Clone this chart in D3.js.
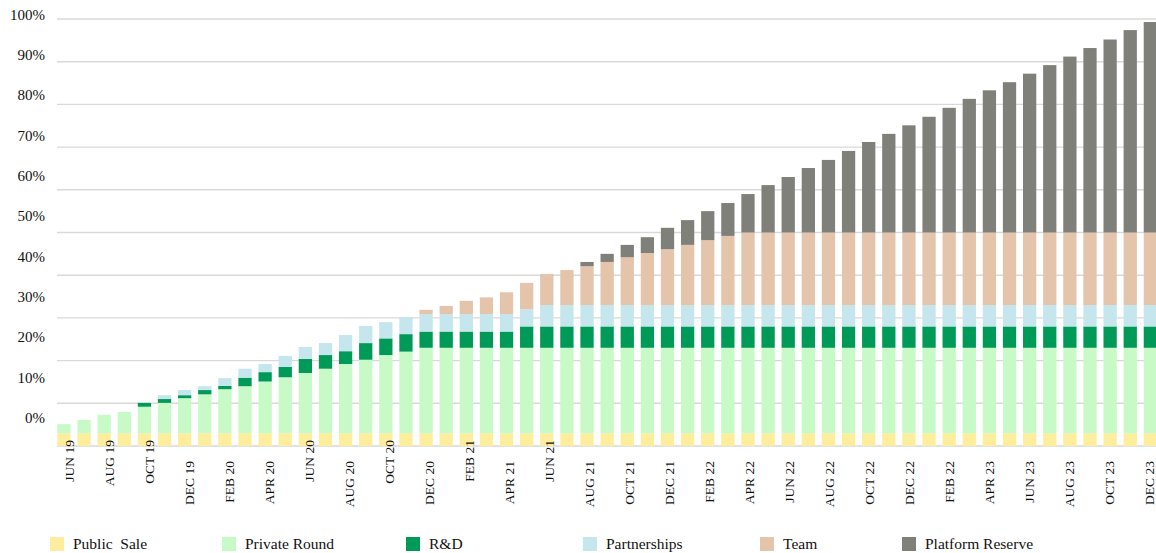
<!DOCTYPE html>
<html>
<head>
<meta charset="utf-8">
<script src="https://cdn.jsdelivr.net/npm/d3@7"></script>
<style>
  body { margin: 0; background: #fff; }
  svg text { font-family: "Liberation Serif", "DejaVu Serif", "Times New Roman", serif; }
</style>
</head>
<body>
<div id="chart"></div>
<script>
var months = [
  "JUN 19","JUL 19","AUG 19","SEP 19","OCT 19","NOV 19","DEC 19",
  "JAN 20","FEB 20","MAR 20","APR 20","MAY 20","JUN 20","JUL 20","AUG 20","SEP 20","OCT 20","NOV 20","DEC 20",
  "JAN 21","FEB 21","MAR 21","APR 21","MAY 21","JUN 21","JUL 21","AUG 21","SEP 21","OCT 21","NOV 21","DEC 21",
  "JAN 22","FEB 22","MAR 22","APR 22","MAY 22","JUN 22","JUL 22","AUG 22","SEP 22","OCT 22","NOV 22","DEC 22",
  "JAN 23","FEB 23","MAR 23","APR 23","MAY 23","JUN 23","JUL 23","AUG 23","SEP 23","OCT 23","NOV 23","DEC 23"
]

// every other month is labelled (the original repeats "FEB 22")
var tickLabels = [
  "JUN 19","AUG 19","OCT 19","DEC 19","FEB 20","APR 20","JUN 20","AUG 20","OCT 20","DEC 20",
  "FEB 21","APR 21","JUN 21","AUG 21","OCT 21","DEC 21","FEB 22","APR 22","JUN 22","AUG 22",
  "OCT 22","DEC 22","FEB 22","APR 23","JUN 23","AUG 23","OCT 23","DEC 23"
]

var yTicks = [0,10,20,30,40,50,60,70,80,90,100]

var seriesNames = ["Public Sale","Private Round","R&D","Partnerships","Team","Platform Reserve"]
var seriesColors = ["#fdee9d","#c7fac7","#009a58","#c4e6ec","#e4c4ab","#80807b"]

var publicSale = [
  3,3,3,3,3,3,3,3,3,3,3,3,3,3,3,3,3,3,3,3,3,3,3,3,3,3,3,3,
  3,3,3,3,3,3,3,3,3,3,3,3,3,3,3,3,3,3,3,3,3,3,3,3,3,3,3
]
var privateRound = [
  2.1,3.1,4.3,5.0,6.2,7.1,8.2,9.1,10.3,11.0,12.1,13.1,14.1,15.1,16.2,17.2,18.3,19.1,
  20,20,20,20,20,20,20,20,20,20,20,20,20,20,20,20,20,20,20,20,20,20,20,20,20,20,20,20,20,20,20,20,20,20,20,20,20
]
var rnd = [
  0,0,0,0,0.9,0.9,0.7,1.0,0.8,2.0,2.2,2.4,3.3,3.2,3.0,3.9,3.9,4.1,
  3.8,3.8,3.8,3.8,3.8,
  5,5,5,5,5,5,5,5,5,5,5,5,5,5,5,5,5,5,5,5,5,5,5,5,5,5,5,5,5,5,5,5
]
var partnerships = [
  0,0,0,0,0,0.9,1.2,0.9,1.8,2.1,1.9,2.6,2.8,2.8,3.8,4.0,3.8,4.0,
  4.1,4.1,4.1,4.1,4.1,4.0,
  5,5,5,5,5,5,5,5,5,5,5,5,5,5,5,5,5,5,5,5,5,5,5,5,5,5,5,5,5,5,5
]
var team = [
  0,0,0,0,0,0,0,0,0,0,0,0,0,0,0,0,0,0,
  1.0,1.9,3.1,3.9,5.1,6.2,7.3,8.2,9.1,10.1,11.2,12.2,13.1,14.1,15.2,16.2,
  17,17,17,17,17,17,17,17,17,17,17,17,17,17,17,17,17,17,17,17,17
]
var platformReserve = [
  0,0,0,0,0,0,0,0,0,0,0,0,0,0,0,0,0,0,0,0,0,0,0,0,0,0,
  1.0,1.9,2.9,3.7,5.0,5.8,6.8,7.7,9.0,11.1,13.0,15.1,17.0,19.1,21.2,23.1,25.1,
  27.1,29.2,31.3,33.3,35.2,37.2,39.2,41.2,43.2,45.2,47.4,49.3
]

var seriesValues = [publicSale, privateRound, rnd, partnerships, team, platformReserve]

var width = 1156, height = 553
var serif = "Liberation Serif, DejaVu Serif, Times New Roman, serif"
var textColor = "#111"

var rows = months.map(function(m, i) {
  var r = {month: m}
  seriesNames.forEach(function(s, j) { r[s] = seriesValues[j][i] })
  return r
})

var svg = d3.select("#chart").append("svg")
  .attr("width", width)
  .attr("height", height)
  .attr("font-family", serif)

var x = d3.scaleBand()
  .domain(months)
  .range([57.3, 1157])
  .paddingInner(0.34)
  .paddingOuter(0)

var y = d3.scaleLinear()
  .domain([0, 100])
  .range([446, 19])

// the tick labels sit on their own, slightly tighter, scales
var yLabel = d3.scaleLinear()
  .domain([0, 100])
  .range([423, 19.7])

var xLabel = d3.scalePoint()
  .domain(d3.range(tickLabels.length))
  .range([69, 1149.5])

// gridlines
svg.append("g")
  .selectAll("line")
  .data(yTicks)
  .join("line")
    .attr("x1", 57)
    .attr("x2", width)
    .attr("y1", function(d) { return y(d) })
    .attr("y2", function(d) { return y(d) })
    .attr("stroke", "#d9d9d9")
    .attr("stroke-width", 1.4)

var stack = d3.stack().keys(seriesNames)(rows)

svg.append("g")
  .selectAll("g")
  .data(stack)
  .join("g")
    .attr("fill", function(d, i) { return seriesColors[i] })
  .selectAll("rect")
  .data(function(d) { return d.filter(function(p) { return p[1] - p[0] > 0 }) })
  .join("rect")
    .attr("x", function(d) { return x(d.data.month) })
    .attr("width", x.bandwidth())
    .attr("y", function(d) { return y(d[1]) })
    .attr("height", function(d) { return y(d[0]) - y(d[1]) })

// y labels
svg.append("g")
  .selectAll("text")
  .data(yTicks)
  .join("text")
    .attr("x", 45)
    .attr("y", function(d) { return yLabel(d) })
    .attr("text-anchor", "end")
    .attr("font-family", serif)
    .attr("font-size", "15px")
    .attr("fill", textColor)
    .text(function(d) { return d + "%" })

// x labels, a handful of them sit higher in the original
var raised = new Set(["JUN 19","AUG 19","OCT 19","JUN 20","OCT 20","FEB 21","JUN 21"])

svg.append("g")
  .selectAll("text")
  .data(tickLabels)
  .join("text")
    .attr("transform", function(d, i) {
      var ty = raised.has(d) && i < 13 ? 440 : 461
      return "translate(" + xLabel(i) + "," + ty + ") rotate(-90)"
    })
    .attr("dy", "0.35em")
    .attr("text-anchor", "end")
    .attr("font-family", serif)
    .attr("font-size", "13.5px")
    .attr("fill", textColor)
    .text(function(d) { return d })

// legend
var legendX = [50, 222, 406, 583, 760, 902]

var legend = svg.append("g")
  .selectAll("g")
  .data(seriesNames)
  .join("g")
    .attr("transform", function(d, i) { return "translate(" + legendX[i] + ",537)" })

legend.append("rect")
  .attr("width", 14)
  .attr("height", 14)
  .attr("fill", function(d, i) { return seriesColors[i] })

legend.append("text")
  .attr("x", 23)
  .attr("y", 12)
  .attr("font-family", serif)
  .attr("font-size", "15.5px")
  .attr("fill", textColor)
  .style("white-space", "pre")
  .text(function(d) { return d == "Public Sale" ? "Public  Sale" : d })
</script>
</body>
</html>
